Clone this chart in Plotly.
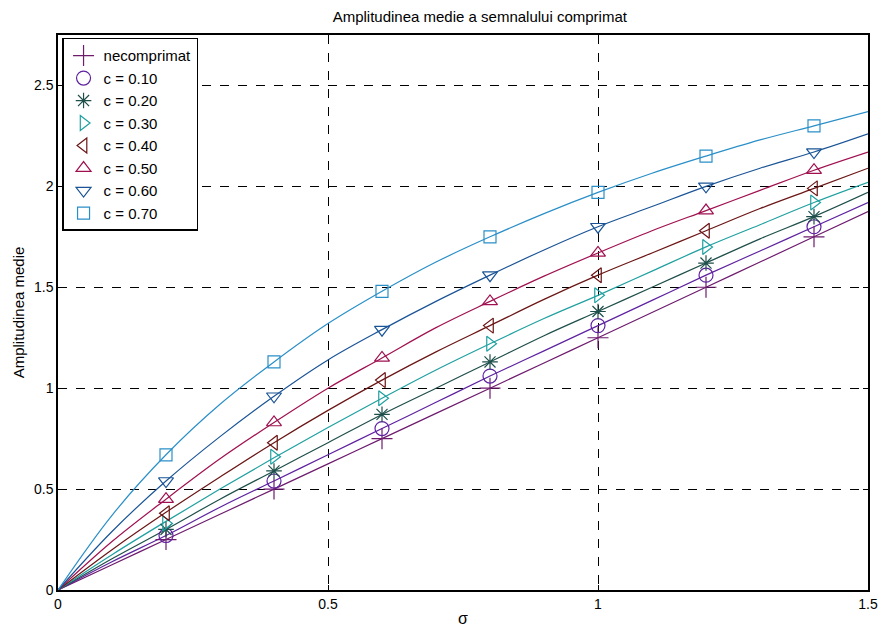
import plotly.graph_objects as go

# Curve sample points (sigma) and analytic curve values
sigma_line = [0, 0.1, 0.2, 0.3, 0.4, 0.5, 0.6, 0.7, 0.8, 0.9, 1.0, 1.1, 1.2, 1.3, 1.4, 1.5]
line_necomprimat = [0, 0.125, 0.25, 0.375, 0.5, 0.625, 0.75, 0.875, 1.0, 1.125, 1.25, 1.375, 1.5, 1.625, 1.75, 1.875]
line_c010 = [0, 0.14, 0.27, 0.41, 0.54, 0.67, 0.80, 0.93, 1.06, 1.185, 1.31, 1.435, 1.56, 1.68, 1.80, 1.92]
line_c020 = [0, 0.155, 0.30, 0.45, 0.59, 0.73, 0.87, 1.00, 1.13, 1.26, 1.38, 1.50, 1.62, 1.74, 1.85, 1.97]
line_c030 = [0, 0.175, 0.34, 0.50, 0.655, 0.805, 0.95, 1.09, 1.22, 1.345, 1.46, 1.58, 1.70, 1.81, 1.92, 2.02]
line_c040 = [0, 0.20, 0.385, 0.56, 0.73, 0.89, 1.04, 1.18, 1.31, 1.44, 1.56, 1.67, 1.78, 1.89, 1.99, 2.09]
line_c050 = [0, 0.24, 0.45, 0.65, 0.83, 1.00, 1.15, 1.30, 1.43, 1.555, 1.67, 1.78, 1.88, 1.98, 2.08, 2.17]
line_c060 = [0, 0.29, 0.54, 0.76, 0.96, 1.14, 1.29, 1.43, 1.56, 1.685, 1.80, 1.90, 2.00, 2.09, 2.17, 2.26]
line_c070 = [0, 0.37, 0.67, 0.92, 1.13, 1.32, 1.48, 1.625, 1.75, 1.865, 1.97, 2.065, 2.15, 2.23, 2.30, 2.37]

# Simulated points (markers)
sigma_pts = [0.2, 0.4, 0.6, 0.8, 1.0, 1.2, 1.4]
pts_necomprimat = [0.25, 0.50, 0.75, 1.00, 1.25, 1.50, 1.75]
pts_c010 = [0.27, 0.54, 0.80, 1.06, 1.31, 1.56, 1.80]
pts_c020 = [0.30, 0.59, 0.87, 1.13, 1.38, 1.62, 1.85]
pts_c030 = [0.33, 0.66, 0.95, 1.22, 1.46, 1.70, 1.92]
pts_c040 = [0.38, 0.73, 1.04, 1.31, 1.56, 1.78, 1.99]
pts_c050 = [0.45, 0.83, 1.15, 1.43, 1.67, 1.88, 2.08]
pts_c060 = [0.54, 0.96, 1.29, 1.56, 1.80, 2.00, 2.17]
pts_c070 = [0.67, 1.13, 1.48, 1.75, 1.97, 2.15, 2.30]

names = ["necomprimat", "c = 0.10", "c = 0.20", "c = 0.30", "c = 0.40", "c = 0.50", "c = 0.60", "c = 0.70"]
colors = ["#6E1B6E", "#5E22A0", "#1E4F4A", "#20A0A0", "#6B1515", "#A01050", "#1A5496", "#2A8FC8"]
symbols = ["cross-thin-open", "circle-open", "asterisk-open", "triangle-right-open",
           "triangle-left-open", "triangle-up-open", "triangle-down-open", "square-open"]
lines = [line_necomprimat, line_c010, line_c020, line_c030, line_c040, line_c050, line_c060, line_c070]
pts = [pts_necomprimat, pts_c010, pts_c020, pts_c030, pts_c040, pts_c050, pts_c060, pts_c070]
sizes = [15, 14, 13, 13, 13, 13, 13, 12]

FONT = "Liberation Sans, Arial"

fig = go.Figure()
for i in range(len(names)):
    fig.add_trace(go.Scatter(x=sigma_line, y=lines[i], mode="lines",
                             line=dict(color=colors[i], width=1.2, shape="spline", smoothing=1.0),
                             showlegend=False, hoverinfo="skip"))
for i in range(len(names)):
    fig.add_trace(go.Scatter(x=sigma_pts, y=pts[i], mode="markers", name=names[i],
                             marker=dict(symbol=symbols[i], size=sizes[i], color=colors[i],
                                         line=dict(color=colors[i], width=1.2))))

axis_common = dict(showline=True, linecolor="black", linewidth=1.5, mirror="allticks", ticks="inside", ticklen=5,
                   tickcolor="black", showgrid=True, gridcolor="black", griddash="dash", gridwidth=1, zeroline=False,
                   automargin=False, ticklabeloverflow="allow",
                   tickfont=dict(family=FONT, size=14, color="black"))

fig.update_layout(
    width=882, height=633,
    margin=dict(l=58, r=14, t=35, b=43),
    paper_bgcolor="white", plot_bgcolor="white",
    title=dict(text="Amplitudinea medie a semnalului comprimat", x=0.544, xanchor="center", y=0.973, yanchor="middle",
               font=dict(family=FONT, size=15, color="black")),
    xaxis=dict(range=[0, 1.5], tickvals=[0, 0.5, 1, 1.5], ticktext=["0", "0.5", "1", "1.5"],
               title=dict(text="σ", font=dict(family=FONT, size=16, color="black"), standoff=2), **axis_common),
    yaxis=dict(range=[0, 2.75], tickvals=[0, 0.5, 1, 1.5, 2, 2.5], ticktext=["0", "0.5", "1", "1.5", "2", "2.5"],
               title=dict(text="Amplitudinea medie", font=dict(family=FONT, size=15, color="black"), standoff=6),
               **axis_common),
    legend=dict(x=0.005, y=0.995, xanchor="left", yanchor="top", bgcolor="white", bordercolor="black", borderwidth=1.5,
                font=dict(family=FONT, size=15, color="black"), tracegroupgap=0, itemwidth=30),
    showlegend=True,
)

fig.write_html("out.html", config={"displayModeBar": False},
               post_script="document.body.style.margin='0';document.body.style.overflow='hidden';")
